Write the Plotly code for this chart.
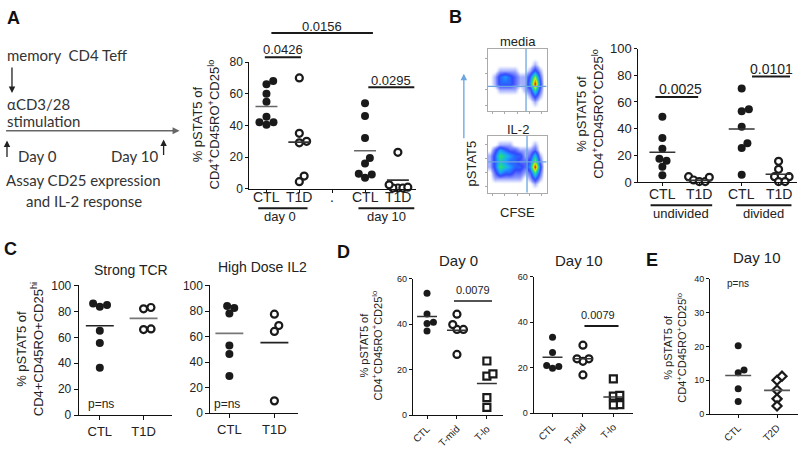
import math
import plotly.graph_objects as go

W, H = 800, 454
FONT = "Liberation Sans, Arial, sans-serif"
FONT2 = "Lato, Open Sans, sans-serif"
INK = "#1a1a1a"

# ---------------- data ----------------
A_ticks = ["CTL", "T1D", ".", "CTL", "T1D"]
A_day0_CTL = [66, 68, 60, 55, 45.5, 42, 40.4, 42]
A_day0_T1D = [70, 35, 30, 29, 8, 4.5]
A_day10_CTL = [54, 46, 32, 19.5, 16, 9.5, 7, 9]
A_day10_T1D = [23, 0.5, 0.5, 0.5, 1, 2.5]
A_bars = [52, 29.5, 24, 5.5]
A_yticks = [0, 20, 40, 60, 80]

B_ticks = ["CTL", "T1D", "CTL", "T1D"]
B_undiv_CTL = [49, 33, 25, 17.5, 16, 11.5, 5]
B_undiv_T1D = [4, 1.5, 0.3, 0.3, 3.5]
B_div_CTL = [70, 54.5, 53, 41.5, 29, 25.5, 5.5]
B_div_T1D = [15.5, 9.5, 4, 4, 0.3, 0.3]
B_bars = [22.3, 1.2, 39.7, 5.8]
B_yticks = [0, 20, 40, 60, 80, 100]

# flow cytometry density (rows: pSTAT5 low->high, cols: CFSE low->high)
media_z = [
    [0, 0, 0, 0, 0, 0, 0, 0, 0, 0, 0, 0],
    [0, 0, 0, 0, 0, 0, 0, 0, 0, 1, 0, 0],
    [0, 0, 0, 0, 0, 0, 0, 0, 1, 3, 1, 0],
    [0, 0, 1, 1, 1, 1, 0, 1, 2, 6, 2, 0],
    [0, 1, 3, 3, 3, 2, 1, 1, 4, 10, 3, 0],
    [0, 1, 3, 4, 3, 2, 1, 1, 3, 7, 2, 0],
    [0, 0, 1, 1, 1, 1, 0, 0, 1, 3, 1, 0],
    [0, 0, 0, 0, 0, 0, 0, 0, 0, 1, 0, 0],
    [0, 0, 0, 0, 0, 0, 0, 0, 0, 0, 0, 0],
    [0, 0, 0, 0, 0, 0, 0, 0, 0, 0, 0, 0],
]
il2_z = [
    [0, 0, 0, 0, 0, 0, 0, 0, 0, 0, 0, 0],
    [0, 0, 0, 0, 0, 0, 0, 0, 0, 1, 0, 0],
    [0, 1, 1, 1, 1, 1, 1, 0, 1, 3, 1, 0],
    [0, 2, 4, 3, 3, 2, 2, 1, 2, 6, 2, 0],
    [1, 3, 6, 5, 4, 3, 3, 2, 4, 10, 3, 0],
    [1, 3, 5, 4, 3, 3, 2, 2, 3, 7, 2, 0],
    [1, 3, 6, 5, 4, 3, 3, 1, 2, 5, 1, 0],
    [0, 2, 4, 3, 2, 2, 1, 1, 1, 2, 0, 0],
    [0, 0, 1, 1, 1, 0, 0, 0, 0, 1, 0, 0],
    [0, 0, 0, 0, 0, 0, 0, 0, 0, 0, 0, 0],
]
media_gate = [7.8, 4.0]
il2_gate = [8.0, 5.4]

C_ticks = ["CTL", "T1D"]
C_TCR_CTL = [85, 83.5, 86, 65, 55.7, 36.6]
C_TCR_T1D = [83, 82, 66, 66.5]
C_TCR_bars = [68.9, 74.6]
C_IL2_CTL = [82.3, 84, 78, 53, 46.3, 29]
C_IL2_T1D = [77.5, 68.6, 64, 9.6]
C_IL2_bars = [62.5, 55.2]
C_yticks = [0, 20, 40, 60, 80, 100]

D_ticks = ["CTL", "T-mid", "T-lo"]
D0_CTL = [53.6, 44.5, 40.8, 40.3, 37]
D0_Tmid = [44.4, 37.7, 37.7, 39.8, 26.7]
D0_Tlo = [23.8, 17.1, 18.1, 7.7, 3.4]
D0_bars = [43.4, 37.3, 13.9]
D10_CTL = [33.4, 26.7, 21, 19.8, 20.5]
D10_Tmid = [29.9, 23.9, 22.8, 23.9, 16.8]
D10_Tlo = [15.1, 7.5, 7.8, 3.7, 3.6]
D10_bars = [24.6, 23.9, 7.1]
D_yticks = [0, 20, 40, 60]

E_ticks = ["CTL", "T2D"]
E_CTL = [20.2, 12.2, 13, 7.5, 3.7]
E_T2D = [10, 11.2, 7.1, 4.5, 2.4]
E_bars = [11.4, 7.0]
E_yticks = [0, 10, 20, 30, 40]

# ---------------- layout helpers ----------------
fig = go.Figure()
layout = dict(width=W, height=H, margin=dict(l=0, r=0, t=0, b=0),
              paper_bgcolor="white", plot_bgcolor="rgba(0,0,0,0)",
              showlegend=False, shapes=[], annotations=[])
P = {}


def fx(px):
    return px / W


def fy(py):
    return 1 - py / H


def xid(i):
    return "x" if i == 1 else f"x{i}"


def yid(i):
    return "y" if i == 1 else f"y{i}"


def make_axes(i, xpx, ypx, xr, yr, yt, xt, xtt, yfs=12, xfs=13, xangle=0,
              line="#111", lw=1.2, ticklen=4, showx=True):
    xa = "xaxis" if i == 1 else f"xaxis{i}"
    ya = "yaxis" if i == 1 else f"yaxis{i}"
    common = dict(showline=True, linecolor=line, linewidth=lw, ticks="outside",
                  ticklen=ticklen, tickcolor=line, tickwidth=1, showgrid=False,
                  zeroline=False, fixedrange=True)
    layout[xa] = dict(domain=[fx(xpx[0]), fx(xpx[1])], range=xr, anchor=yid(i),
                      tickmode="array", tickvals=xt, ticktext=xtt,
                      tickangle=xangle, showticklabels=showx,
                      tickfont=dict(family=FONT, size=xfs, color="#222"), **common)
    layout[ya] = dict(domain=[fy(ypx[1]), fy(ypx[0])], range=yr, anchor=xid(i),
                      tickmode="array", tickvals=yt,
                      tickfont=dict(family=FONT, size=yfs, color="#222"), **common)
    P[i] = dict(xpx=xpx, ypx=ypx, xr=xr, yr=yr,
                kx=(xpx[1] - xpx[0]) / (xr[1] - xr[0]),
                ky=(ypx[1] - ypx[0]) / (yr[1] - yr[0]))


def swarm(vals, ky, d):
    y = [v * ky for v in vals]
    order = sorted(range(len(vals)), key=lambda k: y[k])
    xs = [0.0] * len(vals)
    placed = []
    for k in order:
        cands = [0.0]
        for j in placed:
            dy = abs(y[k] - y[j])
            if dy < d:
                dx = math.sqrt(d * d - dy * dy)
                cands += [xs[j] + dx, xs[j] - dx]
        ok = [c for c in cands
              if all((c - xs[j]) ** 2 + (y[k] - y[j]) ** 2 >= d * d - 1e-6 for j in placed)]
        xs[k] = min(ok, key=lambda c: (round(abs(c), 6), -c))
        placed.append(k)
    return xs


def group(i, pos, vals, symbol="circle", filled=True, size=8, d=7.5,
          bar=None, hw=12, barcolor="#444"):
    p = P[i]
    offs = swarm(vals, p["ky"], d)
    xs = [pos + o / p["kx"] for o in offs]
    fig.add_trace(go.Scatter(
        x=xs, y=vals, mode="markers", xaxis=xid(i), yaxis=yid(i), cliponaxis=False,
        marker=dict(symbol=symbol, size=size, color=INK if filled else "white",
                    line=dict(color=INK, width=0 if filled else 2.2)),
        hoverinfo="skip"))
    if bar is not None:
        fig.add_trace(go.Scatter(
            x=[pos - hw / p["kx"], pos + hw / p["kx"]], y=[bar, bar], mode="lines",
            xaxis=xid(i), yaxis=yid(i), cliponaxis=False,
            line=dict(color=barcolor, width=1.6), hoverinfo="skip"))


def dfrac(i, x):
    p = P[i]
    return (x - p["xr"][0]) / (p["xr"][1] - p["xr"][0])


def hline(i, x0, x1, ypx, width=2.0, color=INK):
    layout["shapes"].append(dict(
        type="line", xref=f"{xid(i)} domain", yref="paper",
        x0=dfrac(i, x0), x1=dfrac(i, x1), y0=fy(ypx), y1=fy(ypx),
        line=dict(color=color, width=width)))


def text(xpx, ypx, s, size=13, family=FONT, xanchor="center", angle=0,
         color="#222", bold=False, yanchor="middle"):
    if bold:
        s = f"<b>{s}</b>"
    layout["annotations"].append(dict(
        x=fx(xpx), y=fy(ypx), xref="paper", yref="paper", text=s, showarrow=False,
        xanchor=xanchor, yanchor=yanchor, textangle=angle,
        font=dict(family=family, size=size, color=color)))


def dtext(i, x, ypx, s, size=13):
    layout["annotations"].append(dict(
        x=x, y=fy(ypx), xref=xid(i), yref="paper", text=s, showarrow=False,
        xanchor="center", yanchor="middle",
        font=dict(family=FONT, size=size, color="#222")))


def arrow(x0, y0, x1, y1, color="#555", width=1.4, head=2, size=1.0):
    layout["annotations"].append(dict(
        x=fx(x1), y=fy(y1), xref="paper", yref="paper", ax=x0 - x1, ay=y0 - y1,
        axref="pixel", ayref="pixel", text="", showarrow=True, arrowhead=head,
        arrowsize=size, arrowwidth=width, arrowcolor=color, standoff=0, startstandoff=0))


# ---------------- panel A ----------------
A_pos = [0, 1, 2, 3, 4]
make_axes(1, (248, 415), (57, 188), [-0.52, 4.55], [0, 80], A_yticks,
          A_pos, A_ticks, yfs=12, xfs=14, ticklen=3, showx=False)
for x, t in zip(A_pos, A_ticks):
    dtext(1, x, 197, t, 14)
group(1, 0, A_day0_CTL, bar=A_bars[0], hw=11, barcolor="#666")
group(1, 1, A_day0_T1D, filled=False, size=7, bar=A_bars[1], hw=11, barcolor="#333")
group(1, 3, A_day10_CTL, bar=A_bars[2], hw=11, barcolor="#666")
group(1, 4, A_day10_T1D, filled=False, size=7, d=5, bar=A_bars[3], hw=11, barcolor="#333")
hline(1, 0.15, 3.24, 27)
dtext(1, 1.7, 20, "0.0156", 13)
hline(1, -0.05, 1.05, 52)
dtext(1, 0.5, 44, "0.0426", 13)
hline(1, 3.1, 4.5, 83)
dtext(1, 3.8, 76, "0.0295", 13)
hline(1, -0.25, 1.25, 208)
dtext(1, 0.4, 217, "day 0", 13)
hline(1, 2.8, 4.5, 208)
dtext(1, 3.65, 217, "day 10", 13)
text(205, 121, "% pSTAT5 of<br>CD4<sup>+</sup>CD45RO<sup>+</sup>CD25<sup>lo</sup>", 13, angle=-90)

text(12, 11, "A", 18, bold=True, color="#111")
text(3, 50, "memory  CD4 Teff", 15, FONT2, xanchor="left", color="#333")
arrow(10, 62, 10, 89, color="#222", width=1.3)
text(3, 100, "αCD3/28", 15, FONT2, xanchor="left", color="#333")
text(3, 118, "stimulation", 15, FONT2, xanchor="left", color="#333")
arrow(3, 128, 178, 128, color="#666", width=1.4)
arrow(5, 156, 5, 138, color="#222", width=1.3)
arrow(162, 154, 162, 137, color="#222", width=1.3)
text(14, 154, "Day 0", 15, FONT2, xanchor="left", color="#333")
text(107, 154, "Day 10", 15, FONT2, xanchor="left", color="#333")
text(82, 179, "Assay CD25 expression", 15, FONT2, color="#333")
text(82, 201, "and IL-2 response", 15, FONT2, color="#333")

# ---------------- panel B ----------------
B_pos = [0, 1, 2.15, 3.15]
make_axes(2, (638, 797), (43, 181), [-0.65, 3.65], [0, 100], B_yticks,
          B_pos, B_ticks, yfs=13, xfs=14, ticklen=3, showx=False)
for x, t in zip(B_pos, B_ticks):
    dtext(2, x, 193, t, 14)
group(2, B_pos[0], B_undiv_CTL, bar=B_bars[0], hw=13, barcolor="#333")
group(2, B_pos[1], B_undiv_T1D, filled=False, size=7, d=6, bar=B_bars[1], hw=13, barcolor="#333")
group(2, B_pos[2], B_div_CTL, bar=B_bars[2], hw=13, barcolor="#333")
group(2, B_pos[3], B_div_T1D, filled=False, size=7, d=6.5, bar=B_bars[3], hw=13, barcolor="#333")
hline(2, -0.19, 0.97, 93)
dtext(2, 0.5, 85, "0.0025", 14)
hline(2, 2.43, 3.46, 72)
dtext(2, 2.95, 64, "0.0101", 14)
hline(2, -0.32, 1.35, 205)
dtext(2, 0.5, 214, "undivided", 13)
hline(2, 2.0, 3.5, 205)
dtext(2, 2.75, 214, "divided", 13)
text(590, 111, "% pSTAT5 of<br>CD4<sup>+</sup>CD45RO<sup>+</sup>CD25<sup>lo</sup>", 13, angle=-90)
text(455, 10, "B", 18, bold=True, color="#111")

# flow plots
jet = [[0, "rgba(255,255,255,0)"], [0.04, "#e4e8ff"], [0.12, "#8f9cff"],
       [0.25, "#3346ff"], [0.42, "#1aa8ff"], [0.58, "#22e07c"],
       [0.78, "#f2ee00"], [1, "#e3000c"]]
for i, z, gate, ypx, lab, labp in [(3, media_z, media_gate, (43, 108), "media", 36),
                                    (4, il2_z, il2_gate, (133, 192), "IL-2", 127)]:
    make_axes(i, (487, 546), ypx, [0, 12], [0, 10], [1, 3.5, 6, 8.5, 11],
              [1, 3.5, 6, 8.5, 11], [""] * 5, line="#aaa", lw=1, ticklen=2, showx=False)
    layout[f"yaxis{i}"]["showticklabels"] = False
    layout[f"xaxis{i}"]["mirror"] = True
    layout[f"yaxis{i}"]["mirror"] = True
    fig.add_trace(go.Heatmap(z=z, x=[k + 0.5 for k in range(12)], y=[k + 0.5 for k in range(10)],
                             xaxis=xid(i), yaxis=yid(i), colorscale=jet, zmin=0, zmax=10,
                             zsmooth="best", showscale=False, hoverinfo="skip"))
    fig.add_trace(go.Scatter(x=[gate[0], gate[0]], y=[0, 10], mode="lines", xaxis=xid(i),
                             yaxis=yid(i), line=dict(color="#6aa6e0", width=1.3), hoverinfo="skip"))
    fig.add_trace(go.Scatter(x=[0, 12], y=[gate[1], gate[1]], mode="lines", xaxis=xid(i),
                             yaxis=yid(i), line=dict(color="#6aa6e0", width=1.3), hoverinfo="skip"))
    text(517, labp, lab, 13)
arrow(463, 135, 463, 69, color="#6aa6e0", width=1.3, head=2)
text(471, 162, "pSTAT5", 13, angle=-90)
text(517, 213, "CFSE", 13)

# ---------------- panel C ----------------
make_axes(5, (77, 170), (288, 422), [-0.48, 1.64], [0, 100], C_yticks,
          [0, 1], C_ticks, yfs=12, xfs=13)
group(5, 0, C_TCR_CTL, bar=C_TCR_bars[0], hw=14, barcolor="#222")
group(5, 1, C_TCR_T1D, filled=False, size=7, bar=C_TCR_bars[1], hw=14, barcolor="#777")
text(99, 411, "p=ns", 12)
text(129, 272, "Strong TCR", 14)
text(28, 354, "% pSTAT5 of<br>CD4+CD45RO+CD25<sup>hi</sup>", 13, angle=-90)

make_axes(6, (209, 297), (288, 420), [-0.42, 1.53], [0, 100], C_yticks,
          [0, 1], C_ticks, yfs=12, xfs=13)
group(6, 0, C_IL2_CTL, bar=C_IL2_bars[0], hw=14, barcolor="#777")
group(6, 1, C_IL2_T1D, filled=False, size=7, bar=C_IL2_bars[1], hw=14, barcolor="#222")
text(226, 411, "p=ns", 12)
text(261, 269, "High Dose IL2", 14)
text(9, 250, "C", 18, bold=True, color="#111")

# ---------------- panel D ----------------
make_axes(7, (412, 502), (281, 422), [-0.47, 2.53], [0, 60], D_yticks,
          [0, 1, 2], D_ticks, yfs=9, xfs=10, xangle=-45, ticklen=3)
group(7, 0, D0_CTL, size=7, d=6.5, bar=D0_bars[0], hw=10, barcolor="#333")
group(7, 1, D0_Tmid, filled=False, size=7, d=6.5, bar=D0_bars[1], hw=10, barcolor="#333")
group(7, 2, D0_Tlo, symbol="square", filled=False, size=7, d=6.5, bar=D0_bars[2], hw=10, barcolor="#333")
hline(7, 0.9, 2.17, 304, width=1.5)
dtext(7, 1.55, 293, "0.0079", 11)
text(458, 262, "Day 0", 15)

make_axes(8, (533, 633), (279, 420), [-0.62, 2.66], [0, 60], D_yticks,
          [0, 1, 2], D_ticks, yfs=9, xfs=10, xangle=-45, ticklen=3)
group(8, 0, D10_CTL, size=7, d=6.5, bar=D10_bars[0], hw=10, barcolor="#333")
group(8, 1, D10_Tmid, filled=False, size=7, d=6.5, bar=D10_bars[1], hw=10, barcolor="#333")
group(8, 2, D10_Tlo, symbol="square", filled=False, size=7, d=6.5, bar=D10_bars[2], hw=10, barcolor="#333")
hline(8, 1.05, 2.17, 330, width=2)
dtext(8, 1.5, 319, "0.0079", 11)
text(578, 262, "Day 10", 15)
text(370, 350, "% pSTAT5 of<br>CD4<sup>+</sup>CD45RO<sup>+</sup>CD25<sup>lo</sup>", 11, angle=-90)
text(342, 253, "D", 18, bold=True, color="#111")

# ---------------- panel E ----------------
make_axes(9, (710, 798), (281, 421), [-0.72, 1.54], [0, 40], E_yticks,
          [0, 1], E_ticks, yfs=9, xfs=10, xangle=-45, ticklen=3)
group(9, 0, E_CTL, size=7, d=6.5, bar=E_bars[0], hw=13, barcolor="#555")
group(9, 1, E_T2D, symbol="diamond", filled=False, size=7, d=6.5, bar=E_bars[1], hw=13, barcolor="#555")
text(738, 286, "p=ns", 10)
text(757, 259, "Day 10", 15)
text(675, 352, "% pSTAT5 of<br>CD4<sup>+</sup>CD45RO<sup>+</sup>CD25<sup>lo</sup>", 11, angle=-90)
text(652, 262, "E", 18, bold=True, color="#111")

fig.update_layout(**layout)
fig.write_html("out.html", config={"displayModeBar": False, "responsive": False},
               post_script="document.body.style.margin='0';document.body.style.overflow='hidden';")
